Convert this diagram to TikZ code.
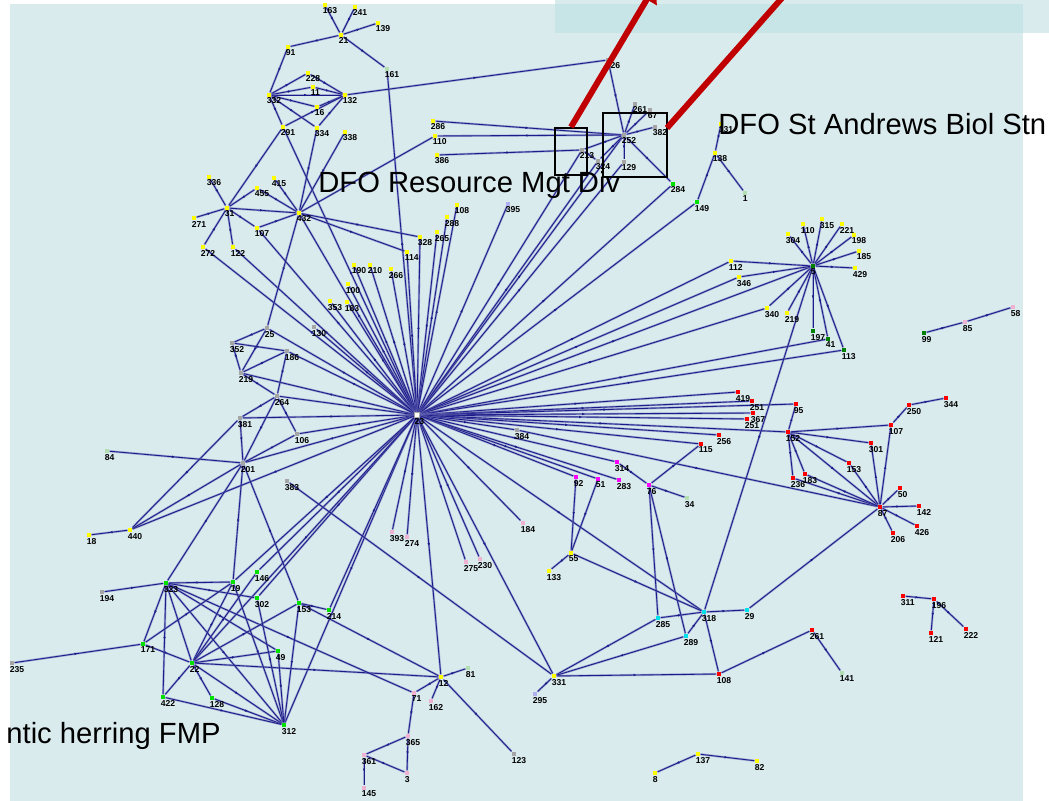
\documentclass[tikz,border=0pt]{standalone}
\usepackage{fontspec}
\setmainfont{Liberation Sans}
\usetikzlibrary{arrows.meta,decorations.markings}
\pgfdeclarelayer{bg}
\pgfdeclarelayer{links}
\pgfsetlayers{bg,links,main}
\definecolor{paneblue}{RGB}{218,235,238}
\definecolor{stripblue}{RGB}{199,228,230}
\definecolor{linkblue}{RGB}{28,28,138}
\definecolor{halo}{RGB}{112,112,186}
\definecolor{vyel}{RGB}{255,255,0}
\definecolor{vgrn}{RGB}{0,225,0}
\definecolor{vdgrn}{RGB}{0,128,0}
\definecolor{vlgrn}{RGB}{178,222,178}
\definecolor{vred}{RGB}{255,0,0}
\definecolor{vmag}{RGB}{255,0,255}
\definecolor{vpink}{RGB}{240,178,210}
\definecolor{vcyan}{RGB}{0,225,235}
\definecolor{vlav}{RGB}{176,176,240}
\definecolor{vgrey}{RGB}{165,165,165}
\definecolor{arrowred}{RGB}{192,0,0}
\begin{document}
\begin{tikzpicture}[x=0.5pt,y=-0.5pt]
    \newcommand{\vsite}[5]{\node[vtx,fill=#4,label={[lbl]south west:#5}] (#1) at (#2,#3) {};}

    % looks of sites, links and call-outs
    \tikzset{
        vtx/.style={rectangle, minimum size=2.2pt, inner sep=0pt},
        lbl/.style={font=\fontsize{4.3}{4.3}\selectfont\bfseries, inner sep=0pt, anchor=north west},
        link/.style={
            draw=linkblue,
            line width=0.45pt,
            preaction={draw=halo, line width=1.1pt, opacity=0.55},
            postaction={decorate},
            decoration={markings, mark=at position 0.5 with {\arrow{Latex[length=1.5pt,width=1.3pt]}}}
            },
        bigtxt/.style={font=\fontsize{14.6}{16}\selectfont, inner sep=0pt},
        hlbox/.style={draw=black, line width=1pt, inner sep=0pt},
        redarrow/.style={draw=arrowred, line width=3pt, -{Triangle[length=9pt,width=11pt]}}
    }

    \useasboundingbox (0,0) rectangle (1049,801);
    \clip (0,0) rectangle (1049,801);

    % panes
    \begin{pgfonlayer}{bg}
        \fill[white] (0,0) rectangle (1049,801);
        \fill[paneblue] (10,4) rectangle (1023,801);
        \fill[paneblue] (555,0) rectangle (1049,33);
        \fill[stripblue] (555,4) rectangle (1023,33);
    \end{pgfonlayer}

    % sites: top left
    \vsite{n163}{325}{5}{vyel}{163}
    \vsite{n241}{355}{7}{vyel}{241}
    \vsite{n21}{341}{35}{vyel}{21}
    \vsite{n139}{378}{23}{vyel}{139}
    \vsite{n91}{288}{47}{vyel}{91}
    \vsite{n161}{387}{69}{vlgrn}{161}
    \vsite{n228}{308}{73}{vyel}{228}
    \vsite{n11}{313}{87}{vyel}{11}
    \vsite{n332}{269}{95}{vyel}{332}
    \vsite{n132}{345}{95}{vyel}{132}
    \vsite{n16}{317}{107}{vyel}{16}
    \vsite{n291}{283}{127}{vyel}{291}
    \vsite{n334}{317}{128}{vyel}{334}
    \vsite{n338}{345}{132}{vyel}{338}
    \vsite{n336}{209}{177}{vyel}{336}
    \vsite{n415}{274}{178}{vyel}{415}
    \vsite{n455}{257}{188}{vyel}{455}
    \vsite{n31}{227}{208}{vyel}{31}
    \vsite{n432}{299}{213}{vyel}{432}
    \vsite{n271}{194}{218}{vyel}{271}
    \vsite{n107a}{257}{228}{vyel}{107}
    \vsite{n272}{203}{247}{vyel}{272}
    \vsite{n122}{233}{247}{vyel}{122}
    \vsite{n286}{433}{121}{vyel}{286}
    \vsite{n110a}{435}{136}{vyel}{110}
    \vsite{n386}{437}{155}{vyel}{386}
    \vsite{n108a}{457}{205}{vyel}{108}
    \vsite{n288}{447}{217}{vyel}{288}
    \vsite{n265}{437}{232}{vyel}{265}
    \vsite{n328}{420}{237}{vyel}{328}
    \vsite{n114}{407}{252}{vyel}{114}
    \vsite{n190}{354}{265}{vyel}{190}
    \vsite{n210}{370}{265}{vyel}{210}
    \vsite{n266}{391}{269}{vyel}{266}
    \vsite{n100}{348}{284}{vyel}{100}
    \vsite{n353}{330}{301}{vyel}{353}
    \vsite{n183a}{347}{302}{vyel}{183}
    \vsite{n395}{508}{204}{vlav}{395}

    % sites: around 252
    \vsite{n426a}{608}{60}{vgrey}{426}
    \vsite{n252}{624}{135}{vgrey}{252}
    \vsite{n261a}{635}{104}{vgrey}{261}
    \vsite{n67}{650}{110}{vgrey}{67}
    \vsite{n382}{655}{127}{vgrey}{382}
    \vsite{n213}{582}{150}{vgrey}{213}
    \vsite{n324}{598}{161}{vgrey}{324}
    \vsite{n129}{624}{162}{vgrey}{129}
    \vsite{n284}{673}{184}{vgrn}{284}
    \vsite{n149}{697}{202}{vgrn}{149}
    \vsite{n131}{721}{124}{vyel}{131}
    \vsite{n138}{715}{153}{vyel}{138}
    \vsite{n1}{745}{193}{vlgrn}{1}

    % sites: around 5
    \vsite{n5}{813}{266}{vdgrn}{5}
    \vsite{n304}{788}{234}{vyel}{304}
    \vsite{n110b}{803}{224}{vyel}{110}
    \vsite{n315}{822}{219}{vyel}{315}
    \vsite{n221}{842}{224}{vyel}{221}
    \vsite{n198}{854}{235}{vyel}{198}
    \vsite{n185}{859}{251}{vyel}{185}
    \vsite{n429}{855}{268}{vyel}{429}
    \vsite{n112}{731}{261}{vyel}{112}
    \vsite{n346}{739}{277}{vyel}{346}
    \vsite{n340}{767}{308}{vyel}{340}
    \vsite{n219b}{787}{313}{vyel}{219}
    \vsite{n197}{813}{331}{vdgrn}{197}
    \vsite{n41}{828}{339}{vdgrn}{41}
    \vsite{n113}{844}{350}{vdgrn}{113}
    \vsite{n99}{924}{333}{vdgrn}{99}
    \vsite{n85}{965}{322}{vpink}{85}
    \vsite{n58}{1013}{307}{vpink}{58}

    % sites: west
    \vsite{n130}{314}{327}{vgrey}{130}
    \vsite{n25}{267}{328}{vgrey}{25}
    \vsite{n352}{232}{343}{vgrey}{352}
    \vsite{n186}{287}{351}{vgrey}{186}
    \vsite{n219a}{241}{373}{vgrey}{219}
    \vsite{n264}{277}{396}{vgrey}{264}
    \vsite{n381}{240}{418}{vgrey}{381}
    \vsite{n106}{297}{434}{vgrey}{106}
    \vsite{n84}{107}{451}{vlgrn}{84}
    \vsite{n201}{243}{463}{vgrey}{201}
    \vsite{n383}{287}{481}{vgrey}{383}
    \vsite{n18}{89}{535}{vyel}{18}
    \vsite{n440}{130}{530}{vyel}{440}

    % hub
    \node[vtx, fill=white, draw=vgrey, line width=0.3pt, minimum size=2.6pt, label={[lbl]south west:23}] (n23) at (417,415) {};

    % sites: red group
    \vsite{n419}{738}{392}{vred}{419}
    \vsite{n251a}{752}{401}{vred}{251}
    \vsite{n95}{796}{404}{vred}{95}
    \vsite{n367}{753}{413}{vred}{367}
    \vsite{n251b}{747}{419}{vred}{251}
    \vsite{n256}{719}{435}{vred}{256}
    \vsite{n115}{701}{444}{vred}{115}
    \vsite{n250}{909}{405}{vred}{250}
    \vsite{n344}{946}{398}{vred}{344}
    \vsite{n107b}{891}{425}{vred}{107}
    \vsite{n152}{788}{432}{vred}{152}
    \vsite{n301}{871}{443}{vred}{301}
    \vsite{n153b}{849}{463}{vred}{153}
    \vsite{n183b}{805}{474}{vred}{183}
    \vsite{n236}{793}{478}{vred}{236}
    \vsite{n87}{880}{507}{vred}{87}
    \vsite{n50}{900}{488}{vred}{50}
    \vsite{n142}{919}{506}{vred}{142}
    \vsite{n426b}{917}{526}{vred}{426}
    \vsite{n206}{893}{533}{vred}{206}

    % sites: middle
    \vsite{n384}{517}{430}{vgrey}{384}
    \vsite{n314}{617}{462}{vmag}{314}
    \vsite{n92}{576}{477}{vmag}{92}
    \vsite{n51}{598}{479}{vmag}{51}
    \vsite{n283}{619}{480}{vmag}{283}
    \vsite{n76}{649}{485}{vmag}{76}
    \vsite{n34}{687}{498}{vlgrn}{34}
    \vsite{n184}{523}{523}{vpink}{184}
    \vsite{n393}{392}{532}{vpink}{393}
    \vsite{n274}{407}{537}{vpink}{274}
    \vsite{n275}{466}{562}{vpink}{275}
    \vsite{n230}{480}{559}{vpink}{230}
    \vsite{n55}{571}{553}{vyel}{55}
    \vsite{n133}{549}{571}{vyel}{133}
    \vsite{n318}{704}{612}{vcyan}{318}
    \vsite{n29}{747}{610}{vcyan}{29}
    \vsite{n285}{658}{618}{vcyan}{285}
    \vsite{n289}{686}{636}{vcyan}{289}
    \vsite{n331}{554}{676}{vyel}{331}
    \vsite{n295}{535}{694}{vlav}{295}
    \vsite{n108b}{719}{674}{vred}{108}
    \vsite{n261b}{812}{630}{vred}{261}
    \vsite{n141}{842}{673}{vlgrn}{141}
    \vsite{n311}{903}{596}{vred}{311}
    \vsite{n196}{934}{599}{vred}{196}
    \vsite{n121}{931}{633}{vred}{121}
    \vsite{n222}{966}{629}{vred}{222}
    \vsite{n137}{698}{754}{vyel}{137}
    \vsite{n82}{757}{761}{vyel}{82}
    \vsite{n8}{655}{773}{vyel}{8}

    % sites: bottom
    \vsite{n12}{441}{677}{vyel}{12}
    \vsite{n81}{468}{668}{vlgrn}{81}
    \vsite{n71}{414}{693}{vpink}{71}
    \vsite{n162}{431}{701}{vpink}{162}
    \vsite{n123}{514}{754}{vgrey}{123}
    \vsite{n365}{408}{736}{vpink}{365}
    \vsite{n361}{364}{755}{vpink}{361}
    \vsite{n3}{407}{773}{vpink}{3}
    \vsite{n145}{364}{788}{vpink}{145}

    % sites: green group
    \vsite{n146}{257}{572}{vgrn}{146}
    \vsite{n323}{166}{583}{vgrn}{323}
    \vsite{n19}{233}{582}{vgrn}{19}
    \vsite{n194}{102}{592}{vgrey}{194}
    \vsite{n302}{257}{598}{vgrn}{302}
    \vsite{n153a}{299}{603}{vgrn}{153}
    \vsite{n214}{329}{610}{vgrn}{214}
    \vsite{n171}{143}{644}{vgrn}{171}
    \vsite{n49}{278}{651}{vgrn}{49}
    \vsite{n22}{192}{663}{vgrn}{22}
    \vsite{n235}{12}{663}{vgrey}{235}
    \vsite{n422}{163}{697}{vgrn}{422}
    \vsite{n128}{212}{698}{vgrn}{128}
    \vsite{n312}{284}{725}{vgrn}{312}

    % links
    \begin{pgfonlayer}{links}
    % spokes of the hub
    \foreach \b in {n161,n291,n432,n107a,n122,n272,n25,n219a,n186,n264,n381,n106,n201,n440,
        n130,n353,n183a,n100,n190,n210,n266,n114,n328,n265,n288,n108a,n395,
        n252,n324,n213,n129,n284,n149,n5,n112,n346,n340,n41,n113,
        n419,n251a,n95,n367,n251b,n256,n115,n152,n384,
        n314,n92,n51,n283,n184,n318,n331,n393,n274,n275,n230,n12,
        n146,n302,n22,n312,n19,n214}
        \draw[link] (n23) -- (\b);
    % top left
    \foreach \a/\b in {n163/n21,n241/n21,n21/n139,n21/n91,n21/n161,n132/n426a,n426a/n252,n91/n332,
        n332/n228,n332/n11,n332/n132,n332/n16,n332/n291,n332/n334,
        n228/n132,n11/n132,n16/n132,n291/n132,n334/n132,
        n291/n31,n334/n432,n338/n432,
        n336/n31,n455/n31,n271/n31,n272/n31,n122/n31,n31/n432,n31/n107a,
        n415/n432,n455/n432,n107a/n432,n432/n328,n432/n114,n432/n25,n110a/n432}
        \draw[link] (\a) -- (\b);
    % west
    \foreach \a/\b in {n25/n352,n25/n219a,n352/n186,n352/n219a,n219a/n186,n219a/n264,n186/n264,
        n264/n381,n264/n106,n264/n201,n381/n201,n381/n440,n106/n201,n84/n201,
        n201/n440,n201/n323,n201/n19,n201/n153a,n440/n18,n383/n331}
        \draw[link] (\a) -- (\b);
    % around 252 and 5
    \foreach \a/\b in {n252/n261a,n252/n67,n252/n382,n252/n129,n252/n213,n252/n324,n286/n252,
        n110a/n252,n252/n284,n386/n213,n213/n324,n131/n138,n138/n1,n138/n149,
        n5/n304,n5/n110b,n5/n315,n5/n221,n5/n198,n5/n185,n5/n429,n112/n5,n346/n5,
        n340/n5,n219b/n5,n5/n197,n5/n41,n5/n113,n5/n318,n99/n85,n85/n58}
        \draw[link] (\a) -- (\b);
    % red group
    \foreach \a/\b in {n384/n87,n152/n95,n152/n236,n152/n183b,n152/n153b,n152/n301,n152/n107b,n152/n87,
        n87/n236,n87/n183b,n87/n153b,n87/n301,n87/n107b,n87/n50,n87/n142,n87/n426b,n87/n206,
        n107b/n250,n250/n344,n29/n87}
        \draw[link] (\a) -- (\b);
    % middle and bottom
    \foreach \a/\b in {n314/n76,n76/n115,n76/n34,n76/n285,n76/n289,n92/n55,n51/n55,n55/n133,n55/n318,
        n285/n331,n289/n331,n285/n318,n289/n318,n331/n108b,n331/n295,n318/n29,n318/n108b,
        n108b/n261b,n261b/n141,n311/n196,n196/n121,n196/n222,n137/n8,n137/n82,
        n12/n81,n12/n71,n12/n162,n12/n123,n22/n12,n153a/n12,n323/n71,
        n71/n365,n365/n361,n365/n3,n361/n3,n361/n145}
        \draw[link] (\a) -- (\b);
    % green group
    \foreach \a/\b in {n194/n323,n323/n19,n323/n302,n323/n171,n323/n22,n323/n422,n323/n312,n323/n49,
        n171/n22,n22/n19,n22/n146,n22/n153a,n22/n49,n22/n128,n22/n312,n22/n422,
        n19/n312,n302/n312,n153a/n312,n49/n312,n128/n312,n422/n312,
        n235/n171,n171/n19,n153a/n214}
        \draw[link] (\a) -- (\b);
    \end{pgfonlayer}

    % texts
    \node[bigtxt, anchor=base west] (standrews) at (718,135) {DFO St Andrews Biol Stn};
    \node[bigtxt, anchor=base west] (resmgt) at (318,193) {DFO Resource Mgt Div};
    \node[bigtxt, anchor=base east] (herring) at (221,743) {ntic herring FMP};

    % call-outs
    \node[hlbox, minimum width=16pt, minimum height=23.5pt] (box1) at (571,151.5) {};
    \node[hlbox, minimum width=32pt, minimum height=32pt] (box2) at (635,145) {};
    \coordinate (tipA) at (656,-16);
    \coordinate (startB) at (667,128);
    \coordinate (tipB) at (805,-28);
    \draw[redarrow] (box1.north) -- (tipA);
    \draw[redarrow] (startB) -- (tipB);
\end{tikzpicture}
\end{document}
